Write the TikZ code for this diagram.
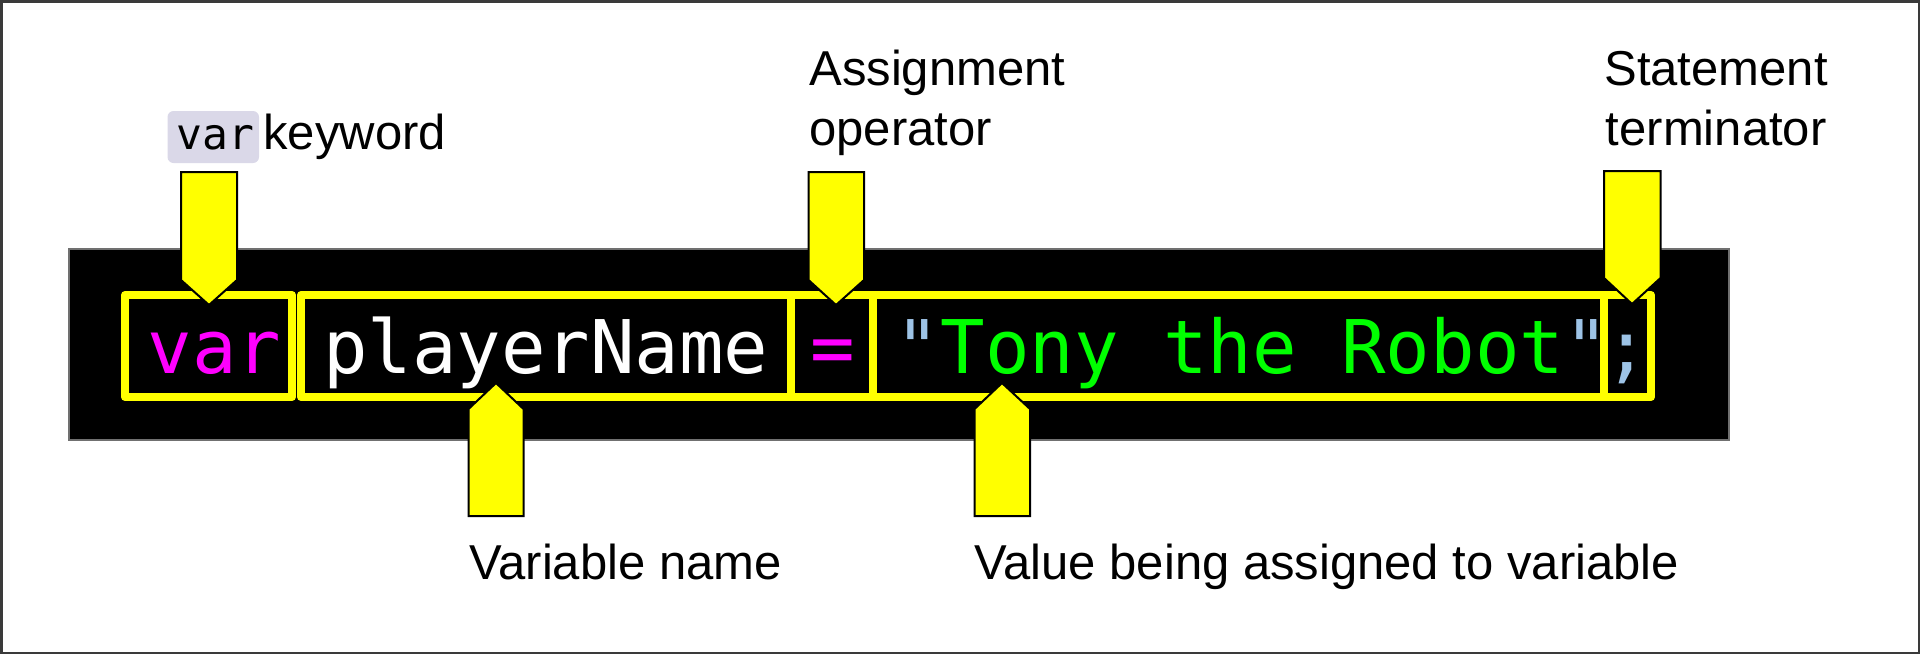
\documentclass[tikz,border=0pt]{standalone}
\usepackage{fontspec}
\setmainfont{Liberation Sans}
\newfontfamily\codefont{DejaVu Sans Mono}
\definecolor{framegray}{HTML}{3A3A3A}
\definecolor{boxgray}{HTML}{707070}
\definecolor{hlyellow}{HTML}{FFFF00}
\definecolor{kwmagenta}{HTML}{FF00FF}
\definecolor{strgreen}{HTML}{00FF00}
\definecolor{qblue}{HTML}{9DC3E6}
\definecolor{varbg}{HTML}{DAD8E8}
\tikzset{
  ybox/.style={draw=hlyellow, line width=4pt, line join=round},
  pointer/.style={fill=hlyellow, draw=black, line width=1pt, line join=miter},
  code/.style={inner sep=0pt, font=\codefont\fontsize{37}{37}\selectfont},
  lbl/.style={inner sep=0pt, anchor=base west, font=\fontsize{24.5}{30}\selectfont, text=black},
}
\begin{document}
\begin{tikzpicture}[x=0.5pt,y=-0.5pt]
\useasboundingbox (0,0) rectangle (1920,654);
% outer frame
\draw[framegray, line width=1.25pt] (1.25,1.25) rectangle (1918.75,652.75);
% code panel
\draw[fill=black, draw=boxgray, line width=1pt] (68.5,248.5) rectangle (1728.5,440);
% highlight boxes
\draw[ybox] (125,295) rectangle (292,397);
\draw[ybox] (301,295) rectangle (791,397);
\draw[ybox] (791,295) rectangle (872.5,397);
\draw[ybox] (872.5,295) rectangle (1604,397);
\draw[ybox] (1604,295) rectangle (1651,397);
% code text
\node[code, anchor=base west, text=kwmagenta] (kw) at (147.5,373) {var};
\node[code, anchor=base west, text=white] (name) at (322.6,373) {playerName};
\node[code, anchor=base, text=kwmagenta] (eq) at (832.5,373) {=};
\node[code, anchor=base west] (val) at (895.5,373) {{\color{qblue}"}{\color{strgreen}Tony the Robot}{\color{qblue}"}};
\node[code, anchor=base, text=qblue] (semi) at (1627,373) {;};
% pointers
\draw[pointer] (181,172) -- (237,172) -- (237,280) -- (209,305) -- (181,280) -- cycle;
\draw[pointer] (808.5,172) -- (864,172) -- (864,280) -- (836,305) -- (808.5,280) -- cycle;
\draw[pointer] (1604,171) -- (1660.5,171) -- (1660.5,278) -- (1632,304) -- (1604,278) -- cycle;
\draw[pointer] (468.5,516) -- (523.5,516) -- (523.5,409) -- (496,383) -- (468.5,409) -- cycle;
\draw[pointer] (974.5,516) -- (1030,516) -- (1030,409) -- (1002,383) -- (974.5,409) -- cycle;
% labels
\fill[varbg, rounded corners=3pt] (167.5,111) rectangle (259,163);
\node[inner sep=0pt, anchor=base west, font=\codefont\fontsize{21.5}{21.5}\selectfont] (kwcode) at (176,149) {var};
\node[lbl] (kwlbl) at (263,149) {keyword};
\node[lbl] (assign1) at (809,85) {Assignment};
\node[lbl] (assign2) at (809,145) {operator};
\node[lbl] (term1) at (1604,85) {Statement};
\node[lbl] (term2) at (1605.5,145) {terminator};
\node[lbl] (varname) at (469,579) {Variable name};
\node[lbl] (value) at (974,579) {Value being assigned to variable};
\end{tikzpicture}
\end{document}
